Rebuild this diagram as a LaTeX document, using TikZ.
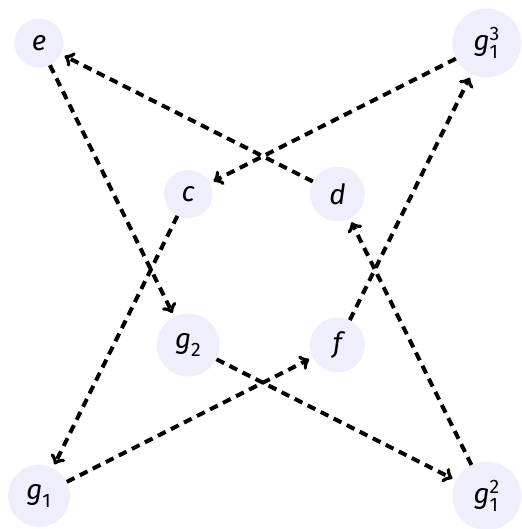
\documentclass[tikz,border=0pt]{standalone}
\usepackage{fontspec}
\setmainfont{Fira Sans}
\usepackage{amsmath}
\definecolor{lavender}{RGB}{238,238,252}
\newcommand{\gsub}[2]{g$_{\textup{#1}}^{\textup{#2}}$}
\tikzset{
  vert/.style={circle, fill=lavender, inner sep=7.5pt, font=\fontsize{21}{25}\selectfont\itshape},
  link/.style={->, line width=3pt, dash pattern=on 6.5pt off 4.5pt, shorten >=3pt}
}
\begin{document}
\begin{tikzpicture}[x=3.955cm, y=4cm]
    \useasboundingbox (-0.261,-0.219) rectangle (3.235,3.285);
    % outer corners
    \node[vert] (e)  at (0,3) {e};
    \node[vert] (g13) at (3,3) {\gsub{1}{3}};
    \node[vert] (g1) at (0,0) {\gsub{1}{}};
    \node[vert] (g12) at (3,0) {\gsub{1}{2}};
    % inner square
    \node[vert] (c)  at (1,2) {c};
    \node[vert] (d)  at (2,2) {d};
    \node[vert] (g2) at (1,1) {\gsub{2}{}};
    \node[vert] (f)  at (2,1) {f};
    % links
    \draw[link] (d) -- (e);
    \draw[link] (e) -- (g2);
    \draw[link] (g13) -- (c);
    \draw[link] (c) -- (g1);
    \draw[link] (g1) -- (f);
    \draw[link] (f) -- (g13);
    \draw[link] (g2) -- (g12);
    \draw[link] (g12) -- (d);
\end{tikzpicture}
\end{document}
